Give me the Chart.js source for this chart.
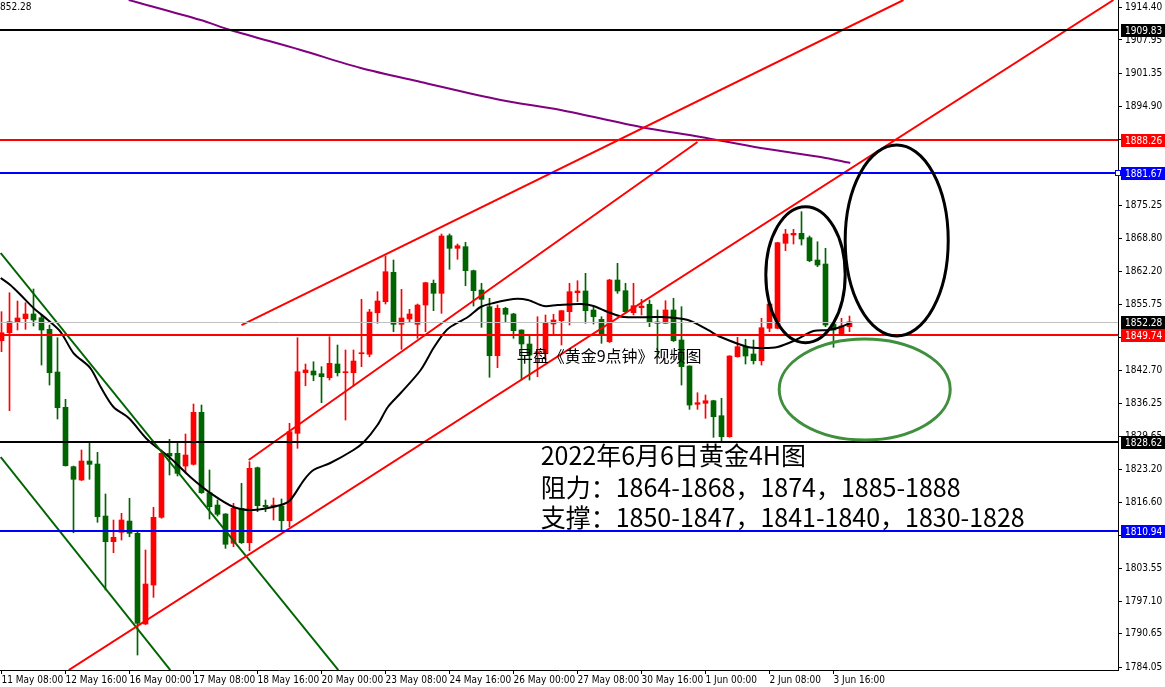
<!DOCTYPE html>
<html>
<head>
<meta charset="utf-8">
<script src="https://cdn.jsdelivr.net/npm/chart.js@4.4.1/dist/chart.umd.min.js"></script>
<style>
  html, body { margin: 0; padding: 0; background: #fff; }
  #wrap { width: 1165px; height: 687px; }
</style>
</head>
<body>
<div id="wrap"><canvas id="chart" width="1165" height="687"></canvas></div>
<script>
// GOLD H4 bars, 11 May 08:00 -> 6 Jun 00:00 (bar index 0..106)
const opens = [1848.55,1850.13,1852.11,1852.90,1853.83,1853.09,1850.80,1842.37,1835.40,1823.67,
  1821.04,1824.79,1824.20,1813.93,1808.86,1810.71,1812.94,1810.51,1792.60,1800.30,
  1813.67,1826.31,1826.31,1823.80,1824.14,1834.41,1818.53,1816.10,1814.33,1808.54,
  1815.45,1808.66,1823.47,1816.04,1815.71,1815.91,1813.00,1830.26,1842.23,1842.57,
  1842.04,1841.24,1843.95,1842.23,1842.23,1845.98,1845.87,1854.08,1856.25,1862.06,
  1851.79,1852.84,1851.79,1855.60,1859.89,1857.91,1869.29,1866.80,1867.12,1862.38,
  1858.57,1855.27,1845.59,1854.95,1853.83,1850.67,1847.90,1846.06,1846.06,1851.85,
  1852.50,1854.28,1858.03,1858.37,1854.62,1852.78,1848.35,1860.54,1858.43,1854.08,
  1855.07,1855.74,1852.25,1851.99,1854.62,1848.69,1843.56,1835.99,1836.19,1836.70,
  1833.74,1829.59,1845.39,1847.37,1845.93,1844.60,1851.00,1851.00,1867.79,1869.43,
  1869.76,1868.90,1864.49,1863.70,1851.85,1849.88,1851.32];
const highs = [1854.28,1858.03,1856.39,1856.06,1858.76,1853.63,1851.65,1849.14,1836.98,1823.80,
  1826.97,1828.60,1826.51,1818.28,1813.14,1814.46,1817.43,1811.00,1807.22,1815.65,
  1826.97,1829.08,1828.60,1830.13,1836.05,1835.85,1823.02,1817.09,1814.40,1816.44,
  1820.39,1824.66,1823.60,1817.09,1817.49,1817.29,1832.24,1849.14,1843.95,1844.40,
  1843.42,1849.34,1847.70,1846.72,1846.72,1856.73,1854.75,1858.23,1865.28,1864.49,
  1858.70,1854.75,1855.80,1860.10,1860.54,1869.63,1869.63,1867.65,1867.99,1862.50,
  1859.89,1856.93,1855.60,1855.15,1853.96,1850.70,1849.48,1853.29,1853.63,1853.77,
  1854.50,1859.89,1860.40,1861.86,1855.27,1853.29,1860.68,1863.84,1859.89,1859.89,
  1856.73,1856.59,1854.62,1856.45,1856.93,1855.27,1843.60,1838.28,1837.83,1836.80,
  1837.18,1845.60,1849.22,1848.83,1848.69,1852.98,1855.90,1868.00,1870.55,1870.55,
  1874.03,1869.23,1868.10,1866.80,1851.90,1852.98,1853.43];
const lows = [1846.38,1834.73,1850.67,1850.80,1851.45,1843.75,1839.80,1833.09,1823.80,1810.63,
  1820.94,1821.18,1812.69,1799.32,1806.68,1809.19,1809.84,1786.48,1792.50,1797.87,
  1813.48,1822.03,1821.83,1822.42,1824.00,1818.40,1813.34,1813.93,1807.55,1807.87,
  1808.50,1807.08,1814.78,1814.78,1813.14,1811.16,1811.82,1827.30,1839.66,1840.65,
  1836.31,1840.79,1841.58,1832.89,1839.60,1843.42,1845.39,1851.99,1855.80,1850.33,
  1846.85,1852.31,1849.03,1850.33,1854.48,1853.96,1862.65,1864.63,1859.41,1855.40,
  1851.20,1841.33,1843.22,1852.31,1849.03,1840.79,1840.79,1841.44,1844.74,1849.68,
  1847.70,1851.65,1856.25,1851.99,1851.85,1848.04,1848.20,1857.91,1853.96,1853.63,
  1853.63,1851.32,1845.73,1851.90,1848.40,1839.80,1835.00,1835.00,1833.23,1829.47,
  1828.41,1829.50,1845.30,1843.95,1843.95,1843.75,1850.33,1850.90,1866.33,1867.65,
  1867.45,1864.15,1863.17,1851.32,1847.25,1849.80,1850.33];
const closes = [1850.13,1852.31,1853.04,1853.83,1852.64,1850.67,1842.23,1835.32,1823.86,1821.18,
  1824.79,1824.14,1813.79,1808.86,1809.72,1813.14,1810.51,1792.74,1800.50,1813.67,
  1826.31,1825.78,1822.36,1825.98,1834.41,1818.53,1815.77,1814.27,1808.35,1815.45,
  1808.66,1823.35,1815.97,1815.77,1816.10,1813.00,1830.58,1842.43,1842.77,1841.78,
  1841.44,1844.09,1842.23,1842.43,1844.54,1846.18,1854.22,1856.39,1862.18,1851.79,
  1853.04,1853.83,1855.60,1860.01,1857.91,1869.23,1866.80,1867.31,1862.38,1858.43,
  1856.73,1845.59,1854.95,1853.77,1850.53,1847.90,1845.73,1846.38,1851.99,1852.64,
  1854.48,1858.23,1858.37,1854.48,1853.29,1849.88,1860.54,1858.37,1854.28,1855.46,
  1855.40,1852.19,1851.99,1854.62,1848.55,1843.42,1835.85,1836.31,1836.70,1833.54,
  1829.59,1845.53,1847.37,1845.53,1844.60,1851.12,1855.80,1867.91,1869.63,1869.76,
  1868.64,1864.35,1863.50,1851.65,1850.67,1851.45,1852.28];

// time axis labels (every 8 bars)
const xTickBars = [0, 8, 16, 24, 32, 40, 48, 56, 64, 72, 80, 88, 96, 104];
const xTickLabels = ['11 May 08:00', '12 May 16:00', '16 May 00:00', '17 May 08:00', '18 May 16:00',
  '20 May 00:00', '23 May 08:00', '24 May 16:00', '26 May 00:00', '27 May 08:00', '30 May 16:00',
  '1 Jun 00:00', '2 Jun 08:00', '3 Jun 16:00'];

// price axis labels
const yTicks = [1914.40, 1907.95, 1901.35, 1894.90, 1888.35, 1881.80, 1875.25, 1868.80, 1862.20,
  1855.75, 1849.25, 1842.70, 1836.25, 1829.65, 1823.20, 1816.60, 1810.15, 1803.55, 1797.10,
  1790.65, 1784.05];

// moving averages
const maFastBars = [-0.1, 1.1, 2.4, 4, 5.8, 7.4, 9, 11.1, 12.4, 14, 15.9, 18.3, 21.1, 23.6, 26.1,
  29, 31.5, 34.9, 36.1, 37.8, 39, 41.1, 44, 45.3, 47, 48.3, 49.9, 52.4, 54, 55.3, 56.1, 58.3, 59.9,
  61.5, 64, 65.8, 67.8, 69.5, 72.4, 74, 75.8, 77.8, 82.4, 85.8, 88.3, 89.9, 93.3, 95.3, 97, 99,
  101.5, 103.3, 104.5, 106.1];
const maFastVals = [1860.93, 1859.55, 1857.58, 1855.01, 1852.64, 1850.27, 1846.12, 1843.16, 1839.41,
  1835.46, 1833.29, 1828.94, 1825.39, 1821.63, 1818.47, 1815.71, 1815.12, 1816.10, 1817.09, 1821.04,
  1823.02, 1824.40, 1826.97, 1828.55, 1831.90, 1835.46, 1838.22, 1842.77, 1847.11, 1850.07, 1851.26,
  1853.23, 1855.21, 1856.00, 1856.79, 1856.59, 1855.40, 1855.60, 1855.80, 1855.40, 1854.22, 1853.23,
  1853.23, 1852.64, 1850.67, 1849.28, 1847.31, 1847.11, 1847.31, 1848.49, 1850.47, 1850.67, 1851.06,
  1852.05];
const maSlowBars = [15.9, 24.9, 28.6, 37.4, 44.9, 52.4, 62.4, 69.9, 79.9, 87.4, 94.9, 102.4, 106.1];
const maSlowVals = [1915.84, 1911.89, 1909.92, 1905.97, 1902.41, 1899.65, 1896.09, 1894.12, 1890.76,
  1888.78, 1886.61, 1884.83, 1883.65];

// horizontal levels
const levelPrices = [1909.83, 1888.26, 1881.67, 1852.28, 1849.74, 1828.62, 1810.94];

// trend lines: [bar, price] -> [bar, price]
const trendRed = [
  [[30, 1851.65], [112.75, 1915.84]],
  [[30.9, 1825.00], [87, 1887.80]],
  [[8.4, 1783.51], [139, 1915.84]]
];
const trendGreen = [
  [[-0.1, 1865.87], [42.1, 1783.51]],
  [[-0.1, 1825.58], [21.1, 1783.51]]
];

// ellipses: centre bar, centre price, half width (bars), half height (price)
const ellipses = [
  { bar: 100.5, price: 1861.59, rx: 4.96, ry: 13.43, color: '#000000' },
  { bar: 111.9, price: 1868.34, rx: 6.44, ry: 18.86, color: '#000000' },
  { bar: 107.9, price: 1838.92, rx: 10.69, ry: 9.97, color: '#3f8f3c' }
];

const noteText = '早盘《黄金9点钟》视频图';
const titleLines = ['2022年6月6日黄金4H图', '阻力：1864-1868，1874，1885-1888', '支撑：1850-1847，1841-1840，1830-1828'];

const RED = '#ff0000';
const GREEN = '#006400';
const AXIS_FONT = "'Liberation Sans Narrow', 'DejaVu Sans Condensed', 'Liberation Sans', sans-serif";
const CJK_FONT = "'Noto Sans CJK SC', 'Noto Sans', sans-serif";

const candleColors = opens.map((o, i) => closes[i] >= o ? RED : GREEN);

const levelStyle = [
  { color: '#000000', width: 2, tag: '#000000' },
  { color: RED, width: 2, tag: RED },
  { color: '#0000ff', width: 2, tag: '#0000ff' },
  { color: '#c0c0c0', width: 1, tag: '#000000' },
  { color: RED, width: 2, tag: RED },
  { color: '#000000', width: 2, tag: '#000000' },
  { color: '#0000ff', width: 2, tag: '#0000ff' }
];

const datasets = [];
datasets.push({
  type: 'bar',
  data: opens.map((o, i) => ({ x: i, y: [lows[i], highs[i]] })),
  backgroundColor: candleColors,
  barThickness: 1,
  grouped: false,
  order: 20
});
datasets.push({
  type: 'bar',
  data: opens.map((o, i) => ({ x: i, y: [o, closes[i]] })),
  backgroundColor: candleColors,
  barThickness: 5,
  minBarLength: 1,
  grouped: false,
  order: 19
});
datasets.push({
  type: 'line',
  data: maFastBars.map((b, k) => ({ x: b, y: maFastVals[k] })),
  borderColor: '#000000', borderWidth: 2, pointRadius: 0, tension: 0.3, order: 5
});
datasets.push({
  type: 'line',
  data: maSlowBars.map((b, k) => ({ x: b, y: maSlowVals[k] })),
  borderColor: '#800080', borderWidth: 2, pointRadius: 0, tension: 0.3, order: 5
});
trendRed.forEach(seg => datasets.push({
  type: 'line',
  data: seg.map(p => ({ x: p[0], y: p[1] })),
  borderColor: RED, borderWidth: 2, pointRadius: 0, order: 4
}));
trendGreen.forEach(seg => datasets.push({
  type: 'line',
  data: seg.map(p => ({ x: p[0], y: p[1] })),
  borderColor: GREEN, borderWidth: 2, pointRadius: 0, order: 4
}));

const overlay = {
  id: 'overlay',
  afterDatasetsDraw(chart) {
    const { ctx, chartArea: a, scales: { x, y } } = chart;
    ctx.save();
    ctx.beginPath();
    ctx.rect(a.left, a.top, a.right - a.left, a.bottom - a.top);
    ctx.clip();

    // horizontal levels
    levelPrices.forEach((p, k) => {
      const st = levelStyle[k];
      let py = Math.round(y.getPixelForValue(p));
      if (st.width % 2) py += 0.5;
      ctx.strokeStyle = st.color;
      ctx.lineWidth = st.width;
      ctx.beginPath();
      ctx.moveTo(a.left, py);
      ctx.lineTo(a.right, py);
      ctx.stroke();
    });

    // ellipses
    ellipses.forEach(e => {
      const cx = x.getPixelForValue(e.bar);
      const cy = y.getPixelForValue(e.price);
      const rx = Math.abs(x.getPixelForValue(e.bar + e.rx) - cx);
      const ry = Math.abs(y.getPixelForValue(e.price + e.ry) - cy);
      ctx.strokeStyle = e.color;
      ctx.lineWidth = 3;
      ctx.beginPath();
      ctx.ellipse(cx, cy, rx, ry, 0, 0, Math.PI * 2);
      ctx.stroke();
    });

    // texts
    ctx.fillStyle = '#000';
    ctx.textAlign = 'left';
    ctx.textBaseline = 'middle';
    ctx.font = '16px ' + CJK_FONT;
    ctx.fillText(noteText, x.getPixelForValue(64.4), y.getPixelForValue(1845.53));
    ctx.font = '25px ' + CJK_FONT;
    const titlePrices = [1825.98, 1819.66, 1813.54];
    titleLines.forEach((t, k) => ctx.fillText(t, x.getPixelForValue(67.4), y.getPixelForValue(titlePrices[k])));

    ctx.font = '10px ' + AXIS_FONT;
    ctx.textBaseline = 'top';
    ctx.fillText('852.28', a.left, a.top + 2);
    ctx.restore();
  },
  afterDraw(chart) {
    const { ctx, chartArea: a, scales: { y } } = chart;
    ctx.save();
    ctx.font = '10px ' + AXIS_FONT;
    ctx.textBaseline = 'middle';
    ctx.textAlign = 'left';
    levelPrices.forEach((p, k) => {
      const py = Math.round(y.getPixelForValue(p));
      ctx.fillStyle = levelStyle[k].tag;
      ctx.fillRect(a.right + 3, py - 6, chart.width - a.right - 3, 13);
      ctx.fillStyle = '#fff';
      ctx.fillText(p.toFixed(2), a.right + 7, py + 1);
    });
    // anchor square on the blue level
    const sy = Math.round(y.getPixelForValue(levelPrices[2]));
    ctx.fillStyle = '#fff';
    ctx.strokeStyle = '#0000ff';
    ctx.lineWidth = 1;
    ctx.fillRect(a.right - 3, sy - 3, 6, 6);
    ctx.strokeRect(a.right - 2.5, sy - 2.5, 5, 5);
    ctx.restore();
  }
};

new Chart(document.getElementById('chart'), {
  type: 'bar',
  data: { datasets },
  plugins: [overlay],
  options: {
    responsive: false,
    animation: false,
    devicePixelRatio: 1,
    layout: { padding: 0 },
    plugins: { legend: { display: false }, tooltip: { enabled: false } },
    scales: {
      x: {
        type: 'linear',
        min: -0.1875,
        max: 139.5625,
        offset: false,
        grid: { offset: false, drawOnChartArea: false, drawTicks: true, tickLength: 4, color: '#000' },
        border: { display: true, color: '#000', width: 1 },
        afterBuildTicks(scale) { scale.ticks = xTickBars.map(v => ({ value: v })); },
        afterFit(scale) { scale.height = 17; scale.paddingLeft = 0; scale.paddingRight = 0; },
        ticks: {
          autoSkip: false, maxRotation: 0, align: 'start', padding: 0,
          color: '#000', font: { family: AXIS_FONT, size: 10 },
          callback(v) { const k = xTickBars.indexOf(v); return k >= 0 ? xTickLabels[k] : ''; }
        }
      },
      y: {
        position: 'right',
        min: 1783.52,
        max: 1915.84,
        grid: { drawOnChartArea: false, drawTicks: true, tickLength: 4, color: '#000' },
        border: { display: true, color: '#000', width: 1 },
        afterBuildTicks(scale) { scale.ticks = yTicks.map(v => ({ value: v })); },
        afterFit(scale) { scale.width = 47; scale.paddingTop = 0; scale.paddingBottom = 0; },
        ticks: {
          padding: 3, color: '#000', font: { family: AXIS_FONT, size: 10 },
          callback(v) { return v.toFixed(2); }
        }
      }
    }
  }
});
</script>
</body>
</html>
